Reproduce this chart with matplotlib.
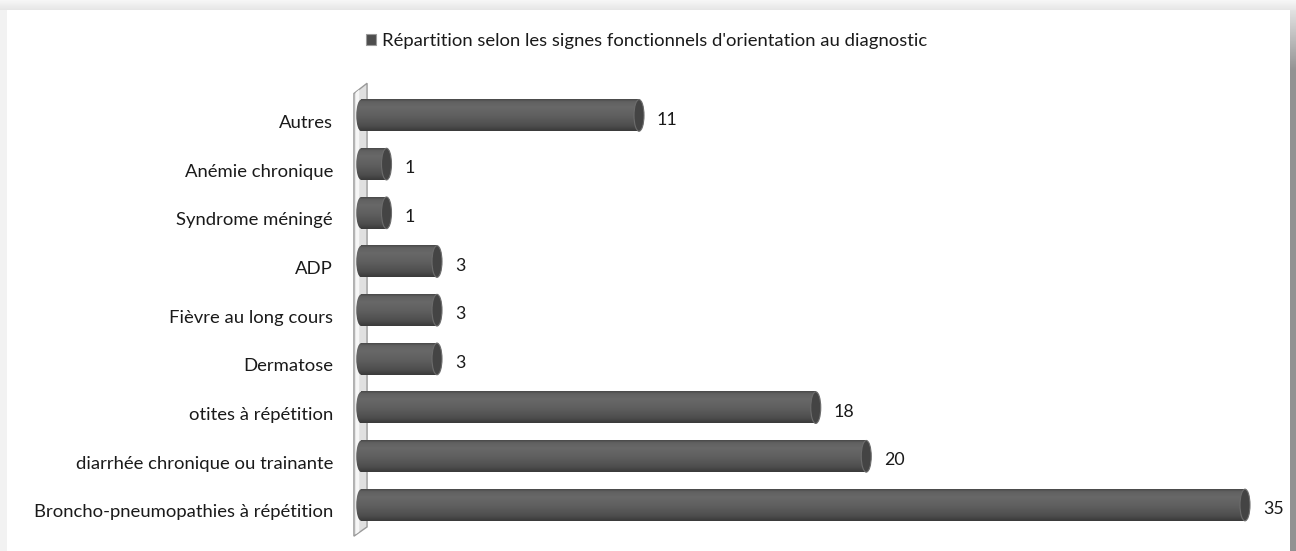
import numpy as np
import matplotlib
matplotlib.use("Agg")
import matplotlib.pyplot as plt
from matplotlib.patches import Ellipse, Rectangle, Polygon
from matplotlib.colors import LinearSegmentedColormap
import matplotlib.transforms as mtransforms

# ---- data -------------------------------------------------------------
categories = [
    "Broncho-pneumopathies à répétition",
    "diarrhée chronique ou trainante",
    "otites à répétition",
    "Dermatose",
    "Fièvre au long cours",
    "ADP",
    "Syndrome méningé",
    "Anémie chronique",
    "Autres",
]
values = [35, 20, 18, 3, 3, 3, 1, 1, 11]
series_label = "Répartition selon les signes fonctionnels d'orientation au diagnostic"

# ---- figure -----------------------------------------------------------
W, H, DPI = 1296, 551, 100
FS = 13.3
plt.rcParams["font.family"] = ["Lato", "DejaVu Sans"]
plt.rcParams["font.size"] = FS

fig = plt.figure(figsize=(W / DPI, H / DPI), dpi=DPI, facecolor="#f2f2f2")

# white card with a soft grey frame
fig.patches.append(Rectangle((7 / W, 0), (1290 - 7) / W, (H - 10) / H,
                             transform=fig.transFigure, facecolor="white",
                             edgecolor="none", zorder=-5))
top_ax = fig.add_axes([0, (H - 10) / H, 1, 10 / H], zorder=-4)
top_ax.imshow(np.linspace(0, 1, 20).reshape(-1, 1), cmap=LinearSegmentedColormap.from_list(
    "t", ["#e6e6e6", "#f7f7f7"]), aspect="auto", origin="lower", extent=[0, 1, 0, 1])
top_ax.axis("off")
right_ax = fig.add_axes([1290 / W, 0, 6 / W, (H - 10) / H], zorder=-4)
shade = np.concatenate([np.full(480, 0.0), np.linspace(0, 1, 61)]).reshape(-1, 1)
right_ax.imshow(shade, cmap=LinearSegmentedColormap.from_list("r", ["#929292", "#e2e2e2"]),
                aspect="auto", origin="lower", extent=[0, 1, 0, 1])
right_ax.axis("off")

# ---- plot area --------------------------------------------------------
x0_px, px_per_unit = 361.25, 25.25
y_bottom_center, px_per_cat = 505.0, 48.7
xmin, xmax = -0.5, 36.0
ymin, ymax = -0.7, 8.7
left_px = x0_px + xmin * px_per_unit
right_px = x0_px + xmax * px_per_unit
top_px = y_bottom_center - ymax * px_per_cat
bot_px = y_bottom_center - ymin * px_per_cat
ax = fig.add_axes([left_px / W, (H - bot_px) / H,
                   (right_px - left_px) / W, (bot_px - top_px) / H], zorder=1)
ax.set_facecolor("none")
for s in ax.spines.values():
    s.set_visible(False)

pos = np.arange(len(categories))
bar_h = 0.65
cap_w = 10 / px_per_unit

# side wall behind the bars
wall = Polygon([(-0.29, -0.64), (-0.29, 8.45), (0.23, 8.66), (0.23, -0.45)],
               closed=True, facecolor="#e0e0e0", edgecolor="#9a9a9a", lw=1.0, zorder=1)
ax.add_patch(wall)
ax.add_patch(Polygon([(-0.22, -0.60), (-0.22, 8.47), (-0.08, 8.53), (-0.08, -0.55)],
                     closed=True, facecolor="#f6f6f6", edgecolor="none", zorder=1.1))

bars = ax.barh(pos, values, height=bar_h, color="#555555", zorder=2, label=series_label)

# cylinder shading
cyl = LinearSegmentedColormap.from_list(
    "cyl", [(0.0, "#3a3a3a"), (0.15, "#4d4d4d"), (0.45, "#5e5e5e"),
            (0.75, "#686868"), (0.92, "#616161"), (1.0, "#4a4a4a")])
grad = np.linspace(0, 1, 64).reshape(-1, 1)
for b in bars:
    x, y, w, h = b.get_x(), b.get_y(), b.get_width(), b.get_height()
    b.set_alpha(0)
    # left rounded end
    left_end = Ellipse((x, y + h / 2), cap_w, h, facecolor="none", edgecolor="none")
    ax.add_patch(left_end)
    im = ax.imshow(grad, cmap=cyl, aspect="auto", origin="lower",
                   extent=[x - cap_w / 2, x + cap_w / 2, y, y + h], zorder=2.1)
    im.set_clip_path(left_end)
    # body
    ax.imshow(grad, cmap=cyl, aspect="auto", origin="lower",
              extent=[x, x + w, y, y + h], zorder=2.2)
    # end cap
    ax.add_patch(Ellipse((x + w, y + h / 2), cap_w, h, facecolor="#444444",
                         edgecolor="#6c6c6c", lw=0.8, zorder=2.3))

ax.set_xlim(xmin, xmax)
ax.set_ylim(ymin, ymax)
ax.set_xticks([])
ax.set_yticks(pos)
ax.set_yticklabels(categories, color="#1a1a1a")
ax.tick_params(axis="y", length=0, pad=(left_px - 333) * 72 / DPI)
shift = mtransforms.ScaledTranslation(0, -6 / DPI, fig.dpi_scale_trans)
for lab in ax.get_yticklabels():
    lab.set_transform(lab.get_transform() + shift)

value_texts = ax.bar_label(bars, labels=[str(v) for v in values],
                           padding=(cap_w / 2 * px_per_unit + 13) * 72 / DPI,
                           color="#1a1a1a", fontsize=FS - 0.5)
# nudge the value labels slightly below the bar axis
for t in value_texts:
    dx, dy = t.xyann
    t.xyann = (dx, dy - 3)

# legend
leg_handle = Rectangle((0, 0), 1, 1, facecolor="#4d4d4d", edgecolor="#9a9a9a", lw=0.8)
fig.legend([leg_handle], [series_label], loc="center left",
           bbox_to_anchor=(366 / W, (H - 41) / H), frameon=False,
           handlelength=0.55, handleheight=0.55, handletextpad=0.3,
           borderaxespad=0, borderpad=0, fontsize=FS, labelcolor="#1a1a1a")

fig.savefig("out.png", dpi=DPI, facecolor=fig.get_facecolor())
